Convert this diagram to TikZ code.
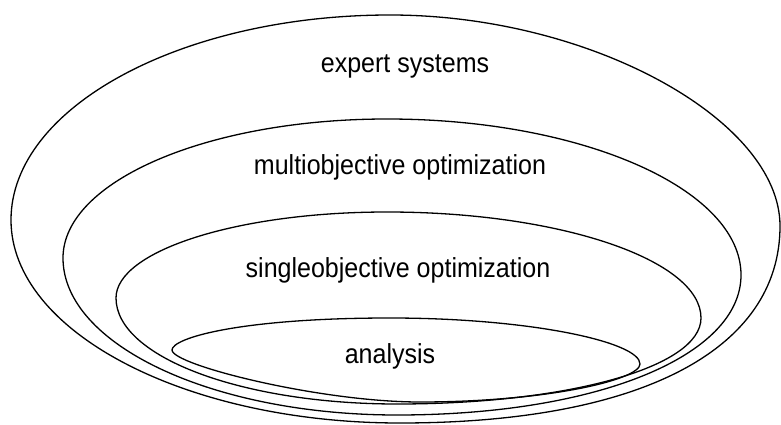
\documentclass[tikz,border=0pt]{standalone}
\usepackage{fontspec}
\setmainfont{Liberation Sans}
\newfontfamily\labelfont[FakeStretch=0.91]{Liberation Sans}
\begin{document}
\begin{tikzpicture}[x=1pt,y=-1pt,
  shell/.style={draw=black,line width=1.3pt},
  lbl/.style={font=\labelfont\fontsize{27.5}{33}\selectfont,anchor=base,inner sep=0pt}]
\useasboundingbox (0,0) rectangle (781,425);

% outermost shell: expert systems
\draw[shell] (390,15)
  .. controls (590,15) and (780,120) .. (780,226)
  .. controls (780,350) and (640,423) .. (400,423)
  .. controls (186,423) and (11,332) .. (11,220)
  .. controls (11,107) and (182,15) .. (390,15) -- cycle;

% second shell: multiobjective optimization
\draw[shell] (387,119)
  .. controls (582,119) and (741,189) .. (741,275)
  .. controls (741,356) and (597,415) .. (397,415)
  .. controls (213,415) and (63,345) .. (63,258)
  .. controls (63,181) and (208,119) .. (387,119) -- cycle;

% third shell: singleobjective optimization
\draw[shell] (387,212)
  .. controls (560,212) and (701,260) .. (701,318)
  .. controls (701,368) and (565,404) .. (397,404)
  .. controls (242,404) and (116,357) .. (116,298)
  .. controls (116,251) and (237,212) .. (387,212) -- cycle;

% innermost shell: analysis
\draw[shell] (390,318)
  .. controls (530,318) and (640,342) .. (640,364)
  .. controls (640,380) and (545,402) .. (420,402)
  .. controls (320,402) and (172,365) .. (172,350)
  .. controls (172,338) and (240,318) .. (390,318) -- cycle;

\node[lbl] (expert)   at (405,73)  {expert systems};
\node[lbl] (multi)    at (400,174) {multiobjective optimization};
\node[lbl] (single)   at (398,277) {singleobjective optimization};
\node[lbl] (analysis) at (390,363) {analysis};
\end{tikzpicture}
\end{document}
